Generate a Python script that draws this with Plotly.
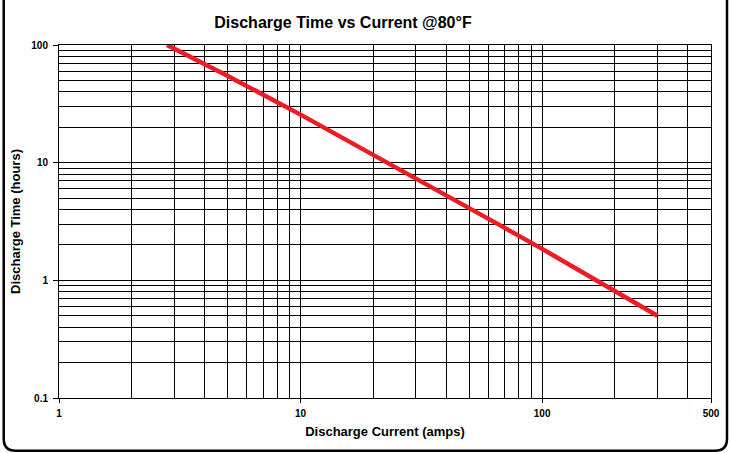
import plotly.graph_objects as go

# Data
current_amps = [2.8, 4, 5, 10, 20, 30, 40, 50, 70, 100, 200, 300]
time_hours = [100, 69, 54.5, 25.6, 11.7, 7.43, 5.33, 4.12, 2.79, 1.85, 0.815, 0.5]

x_tick_vals = [1, 10, 100, 500]
x_tick_text = ["1", "10", "100", "500"]
y_tick_vals = [0.1, 1, 10, 100]
y_tick_text = ["0.1", "1", "10", "100"]

title_text = "Discharge Time vs Current @80°F"
x_title = "Discharge Current (amps)"
y_title = "Discharge Time (hours)"

W, H = 731, 453
L, R, T, B = 59.3, 19.5, 45, 54.7
pw, ph = W - L - R, H - T - B

x_grid = [m * 10 ** d for d in range(0, 3) for m in range(1, 10) if m * 10 ** d <= 500]
y_grid = [m * 10 ** d for d in range(-1, 2) for m in range(1, 10)] + [100]

fig = go.Figure()
fig.add_trace(go.Scatter(
    x=current_amps, y=time_hours, mode="lines",
    line=dict(color="#ED1C24", width=4.5),
    showlegend=False, hoverinfo="skip"))

font_family = "Liberation Sans, Arial, sans-serif"

fig.update_xaxes(
    type="log", range=[0, 2.69897],
    tickvals=x_tick_vals, ticktext=["<b>" + t + "</b>" for t in x_tick_text],
    ticks="outside", ticklen=4, tickcolor="black", tickwidth=1,
    ticklabelstandoff=2,
    showgrid=True, gridcolor="black", gridwidth=1,
    minor=dict(tickvals=x_grid, showgrid=True, gridcolor="black", gridwidth=1, ticks=""),
    showline=True, linecolor="black", linewidth=1, mirror=True,
    tickfont=dict(family=font_family, size=10, color="black"),
    title=dict(text="<b>" + x_title + "</b>", font=dict(family=font_family, size=13, color="black"), standoff=8),
    zeroline=False,
)
fig.update_yaxes(
    type="log", range=[-1, 2],
    tickvals=y_tick_vals, ticktext=["<b>" + t + "</b>" for t in y_tick_text],
    ticks="outside", ticklen=5, tickcolor="black", tickwidth=1,
    ticklabelstandoff=3,
    showgrid=True, gridcolor="black", gridwidth=1,
    minor=dict(tickvals=y_grid, showgrid=True, gridcolor="black", gridwidth=1, ticks=""),
    showline=True, linecolor="black", linewidth=1, mirror=True,
    tickfont=dict(family=font_family, size=10, color="black"),
    title=dict(text="<b>" + y_title + "</b>", font=dict(family=font_family, size=13, color="black"), standoff=7),
    zeroline=False,
)

# rounded border (in paper coords)
def px(xp):
    return (xp - L) / pw

def py(yp):
    return (H - B - yp) / ph

r = 12
x0, x1, y0, y1 = 4, 727.5, -20, 451
path = (f"M {px(x0)},{py(y0)} L {px(x0)},{py(y1 - r)} "
        f"Q {px(x0)},{py(y1)} {px(x0 + r)},{py(y1)} "
        f"L {px(x1 - r)},{py(y1)} Q {px(x1)},{py(y1)} {px(x1)},{py(y1 - r)} "
        f"L {px(x1)},{py(y0)}")
fig.add_shape(type="path", path=path, xref="paper", yref="paper",
              line=dict(color="black", width=2.5), layer="above")

fig.update_layout(
    width=W, height=H,
    margin=dict(l=L, r=R, t=T, b=B),
    paper_bgcolor="white", plot_bgcolor="white",
    title=dict(text="<b>" + title_text + "</b>", x=343 / W, xanchor="center",
               y=1 - 22 / H, yanchor="middle",
               font=dict(family=font_family, size=16, color="black")),
)

fig.write_html("out.html", config={"displayModeBar": False},
               post_script="document.body.style.margin='0';document.body.style.padding='0';")
